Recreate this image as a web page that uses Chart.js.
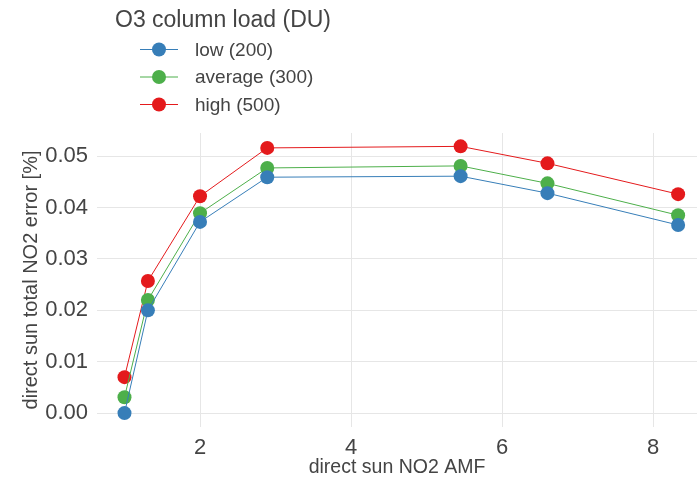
<!DOCTYPE html>
<html>
<head>
<meta charset="utf-8">
<script src="https://cdn.jsdelivr.net/npm/chart.js@4.4.1/dist/chart.umd.min.js"></script>
<style>
  html, body { margin: 0; padding: 0; background: #fff; }
  #wrap { width: 697px; height: 479px; position: relative; }
</style>
</head>
<body>
<div id="wrap"><canvas id="chart" width="697" height="479"></canvas></div>
<script>
const amf = [1.0, 1.31, 2.0, 2.89, 5.45, 6.6, 8.33];
const errLow = [0.0000, 0.0200, 0.0372, 0.0459, 0.0461, 0.0428, 0.0366];
const errAvg = [0.0031, 0.0220, 0.0389, 0.0477, 0.0481, 0.0447, 0.0385];
const errHigh = [0.0070, 0.0257, 0.0422, 0.0516, 0.0519, 0.0486, 0.0426];
const seriesNames = ["low (200)", "average (300)", "high (500)"];
const seriesColors = ["#377eb8", "#4daf4a", "#e41a1c"];
const xTicks = [2, 4, 6, 8];
const yTicks = [0, 0.01, 0.02, 0.03, 0.04, 0.05];
const legendTitle = "O3 column load (DU)";

const FONT = "'Liberation Sans', Arial, sans-serif";
const TXT = "#444";

function pts(ys) {
  return amf.map((x, i) => ({ x: x, y: ys[i] }));
}

const datasets = [errLow, errAvg, errHigh].map((ys, i) => ({
  label: seriesNames[i],
  data: pts(ys),
  borderColor: seriesColors[i],
  backgroundColor: seriesColors[i],
  borderWidth: 1,
  pointRadius: 7,
  pointHoverRadius: 7,
  pointBorderWidth: 0,
  showLine: true
}));

// legend drawn at top-left like the original
const legendPlugin = {
  id: "topLegend",
  afterDraw(chart) {
    const ctx = chart.ctx;
    ctx.save();
    ctx.fillStyle = TXT;
    ctx.font = "23px " + FONT;
    ctx.textBaseline = "middle";
    ctx.fillText(legendTitle, 115, 21);
    chart.data.datasets.forEach((ds, i) => {
      const y = 49.5 + i * 27.5;
      ctx.strokeStyle = ds.borderColor;
      ctx.lineWidth = 1;
      ctx.beginPath();
      ctx.moveTo(140, y);
      ctx.lineTo(178, y);
      ctx.stroke();
      ctx.fillStyle = ds.backgroundColor;
      ctx.beginPath();
      ctx.arc(159, y, 7, 0, Math.PI * 2);
      ctx.fill();
      ctx.fillStyle = TXT;
      ctx.font = "19px " + FONT;
      ctx.fillText(ds.label, 195, y + 1);
    });
    ctx.restore();
  }
};

new Chart(document.getElementById("chart"), {
  type: "scatter",
  data: { datasets: datasets },
  plugins: [legendPlugin],
  options: {
    responsive: false,
    animation: false,
    layout: { autoPadding: false, padding: { top: 133, right: 0, left: 0, bottom: 0 } },
    plugins: { legend: { display: false }, tooltip: { enabled: false } },
    scales: {
      x: {
        type: "linear",
        min: 0.636,
        max: 8.58,
        afterBuildTicks: s => { s.ticks = xTicks.map(v => ({ value: v })); },
        afterFit: s => { s.height = 52; s.paddingLeft = 0; s.paddingRight = 0; },
        border: { display: false },
        grid: { color: "#e6e6e6", lineWidth: 1, drawTicks: false },
        ticks: { color: TXT, font: { family: FONT, size: 22 }, padding: 8, maxRotation: 0 },
        title: { display: true, text: "direct sun NO2 AMF", color: TXT, font: { family: FONT, size: 19.5 }, padding: { top: 0, bottom: 0 } }
      },
      y: {
        min: -0.0027,
        max: 0.0545,
        afterBuildTicks: s => { s.ticks = yTicks.map(v => ({ value: v })); },
        afterFit: s => { s.width = 97; s.paddingTop = 0; s.paddingBottom = 0; },
        border: { display: false },
        grid: { color: "#e6e6e6", lineWidth: 1, drawTicks: false },
        ticks: { color: TXT, font: { family: FONT, size: 22 }, padding: 9, callback: v => v.toFixed(2) },
        title: { display: true, text: "direct sun total NO2 error [%]", color: TXT, font: { family: FONT, size: 20 }, padding: { top: 19, bottom: 0 } }
      }
    }
  }
});
</script>
</body>
</html>
